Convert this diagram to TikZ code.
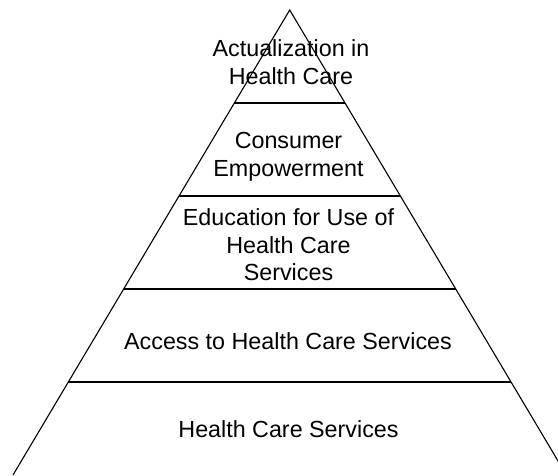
\documentclass[tikz,border=0pt]{standalone}
\usepackage{fontspec}
\setmainfont{Liberation Sans}
\usetikzlibrary{calc}

\begin{document}
\begin{tikzpicture}[x=1pt,y=1pt,
    side/.style={line width=1.1pt},
    tier/.style={line width=1.6pt},
    tiertext/.style={align=center, inner sep=0pt, font=\fontsize{23.3}{27.5}\selectfont}]
  \useasboundingbox (0,0) rectangle (558,475);
  \clip (0,0) rectangle (558,475);
  \coordinate (top) at (289.7,465);
  \coordinate (bl) at (13,0);
  \coordinate (br) at (566.4,0);

  \draw[side] (bl) -- (top) -- (br);
  \foreach \pos in {0.2,0.4,0.6,0.8}
    \draw[tier] ($(top)!\pos!(bl)$) -- ($(top)!\pos!(br)$);

  \node[tiertext] (actual) at (291,413) {Actualization in\\Health Care};
  \node[tiertext] (empower) at (288.5,318) {Consumer\\Empowerment};
  \node[tiertext] (educate) at (288.5,230) {Education for Use of\\Health Care\\Services};
  \node[tiertext] (access) at (288,133.5) {Access to Health Care Services};
  \node[tiertext] (service) at (288.5,46) {Health Care Services};
\end{tikzpicture}
\end{document}
